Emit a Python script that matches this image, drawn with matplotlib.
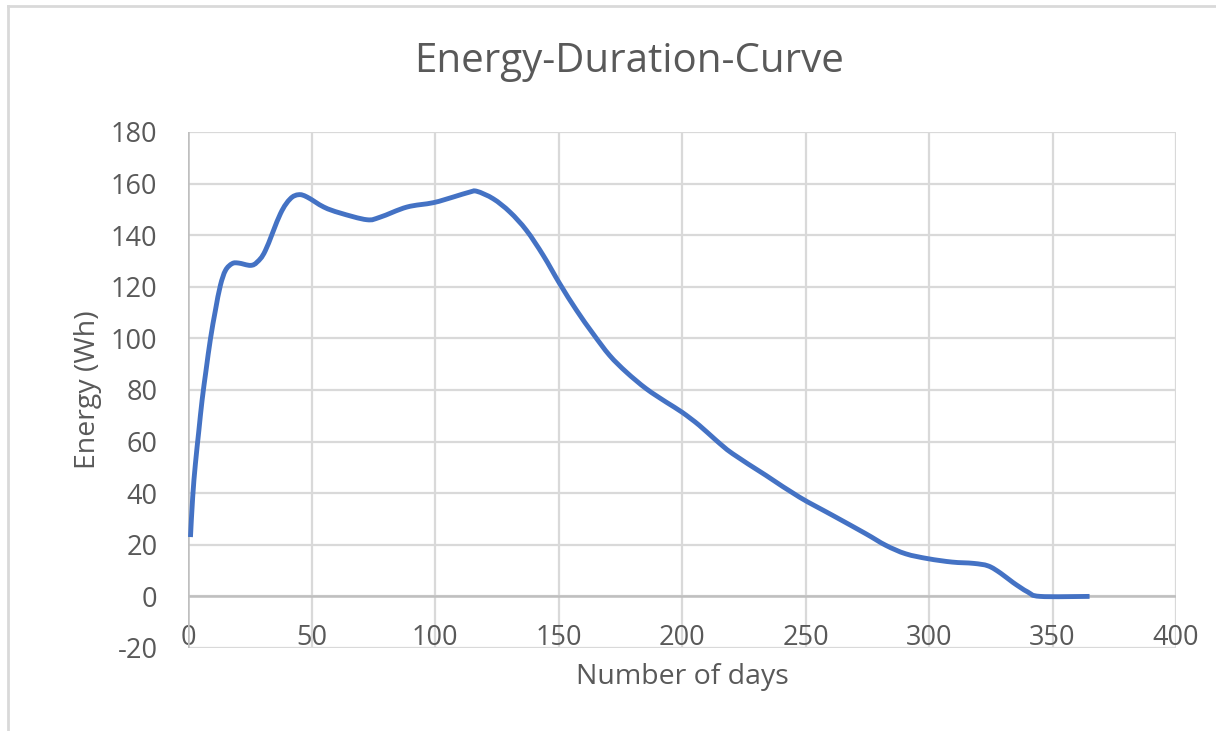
import matplotlib
matplotlib.use("Agg")
import matplotlib.pyplot as plt
from matplotlib.lines import Line2D
from matplotlib.path import Path
from matplotlib.patches import PathPatch

# values
days = [1, 1.9, 3, 4.4, 5.7, 7.3, 9.1, 11.1, 13.1, 15.2, 17.9, 20.5, 25.3,
        28, 31.3, 37.4, 41.4, 44.8, 48.2, 55, 61.6, 72.4, 77.8, 88.6, 99.3,
        107.4, 114, 117, 123.6, 130.3, 137, 143.8, 150.5, 157.3, 164, 170.7,
        177.5, 185.5, 193.6, 200, 207, 213.8, 220.5, 234, 247.5, 261, 274.4,
        282.5, 290.6, 299.7, 309.4, 318, 324, 329, 334, 340, 345, 365]
energy = [23, 38.5, 51.4, 64.3, 76, 87.6, 99.9, 110.9, 120.5, 126.4, 129,
          129.2, 128.3, 129.6, 134, 148.3, 154.1, 155.7, 154.8, 150.9, 148.6,
          146, 147, 150.9, 152.6, 154.8, 156.7, 157, 154.1, 149, 141.9, 132.2,
          121.2, 110.9, 101.8, 93.4, 86.9, 80.5, 75.3, 71.4, 66.3, 60.5, 55.3,
          46.9, 38.5, 31.4, 24.3, 19.8, 16.5, 14.6, 13.3, 12.8, 11.8, 9.0,
          5.4, 1.7, 0, 0]

x_ticks = [0, 50, 100, 150, 200, 250, 300, 350, 400]
y_ticks = [-20, 0, 20, 40, 60, 80, 100, 120, 140, 160, 180]

text_col = "#595959"
grid_col = "#D9D9D9"
plt.rcParams["font.family"] = ["Open Sans", "DejaVu Sans"]
plt.rcParams["axes.unicode_minus"] = False


def smooth_path(xs, ys):
    # Excel-style smoothed line: Catmull-Rom segments as cubic Beziers
    pts = list(zip(xs, ys))
    n = len(pts)
    verts = [pts[0]]
    codes = [Path.MOVETO]
    for i in range(n - 1):
        p0 = pts[i - 1] if i > 0 else pts[i]
        p1 = pts[i]
        p2 = pts[i + 1]
        p3 = pts[i + 2] if i + 2 < n else pts[i + 1]
        c1 = (p1[0] + (p2[0] - p0[0]) / 6, p1[1] + (p2[1] - p0[1]) / 6)
        c2 = (p2[0] - (p3[0] - p1[0]) / 6, p2[1] - (p3[1] - p1[1]) / 6)
        verts += [c1, c2, p2]
        codes += [Path.CURVE4] * 3
    return Path(verts, codes)


fig = plt.figure(figsize=(12.16, 7.31), dpi=100)
ax = fig.add_axes([188 / 1216, 1 - 648 / 731, (1176 - 188) / 1216, (648 - 132) / 731])

ax.add_patch(PathPatch(smooth_path(days, energy), facecolor="none",
                       edgecolor="#4472C4", linewidth=3.5, capstyle="butt", zorder=3))

ax.set_xlim(0, 400)
ax.set_ylim(-20, 180)
ax.set_xticks(x_ticks)
ax.set_yticks(y_ticks)
ax.grid(True, color=grid_col, linewidth=1.6)
ax.set_axisbelow(True)
ax.axhline(0, color="#BFBFBF", linewidth=1.8, zorder=2)
ax.axvline(0, color="#BFBFBF", linewidth=1.8, zorder=2)

for s in ["top", "right", "left"]:
    ax.spines[s].set_visible(False)
ax.spines["bottom"].set_position(("data", 0))
ax.spines["bottom"].set_visible(False)

ax.tick_params(axis="x", length=0, pad=20, labelsize=19.5, labelcolor=text_col)
ax.tick_params(axis="y", length=0, pad=22, labelsize=19.5, labelcolor=text_col)

ax.set_xlabel("Number of days", fontsize=20.5, color=text_col)
ax.set_ylabel("Energy (Wh)", fontsize=20.5, color=text_col, labelpad=6)
ax.xaxis.set_label_coords(0.5, -0.03)

fig.text(629 / 1216, 1 - 62 / 731, "Energy-Duration-Curve", fontsize=29,
         color=text_col, ha="center", va="center")

# chart frame (partly cropped in the reference)
fig.add_artist(Line2D([8 / 1216, 1], [1 - 6 / 731, 1 - 6 / 731],
                      transform=fig.transFigure, color=grid_col, linewidth=2))
fig.add_artist(Line2D([8 / 1216, 8 / 1216], [0, 1 - 6 / 731],
                      transform=fig.transFigure, color=grid_col, linewidth=2))

fig.savefig("out.png", dpi=100)
